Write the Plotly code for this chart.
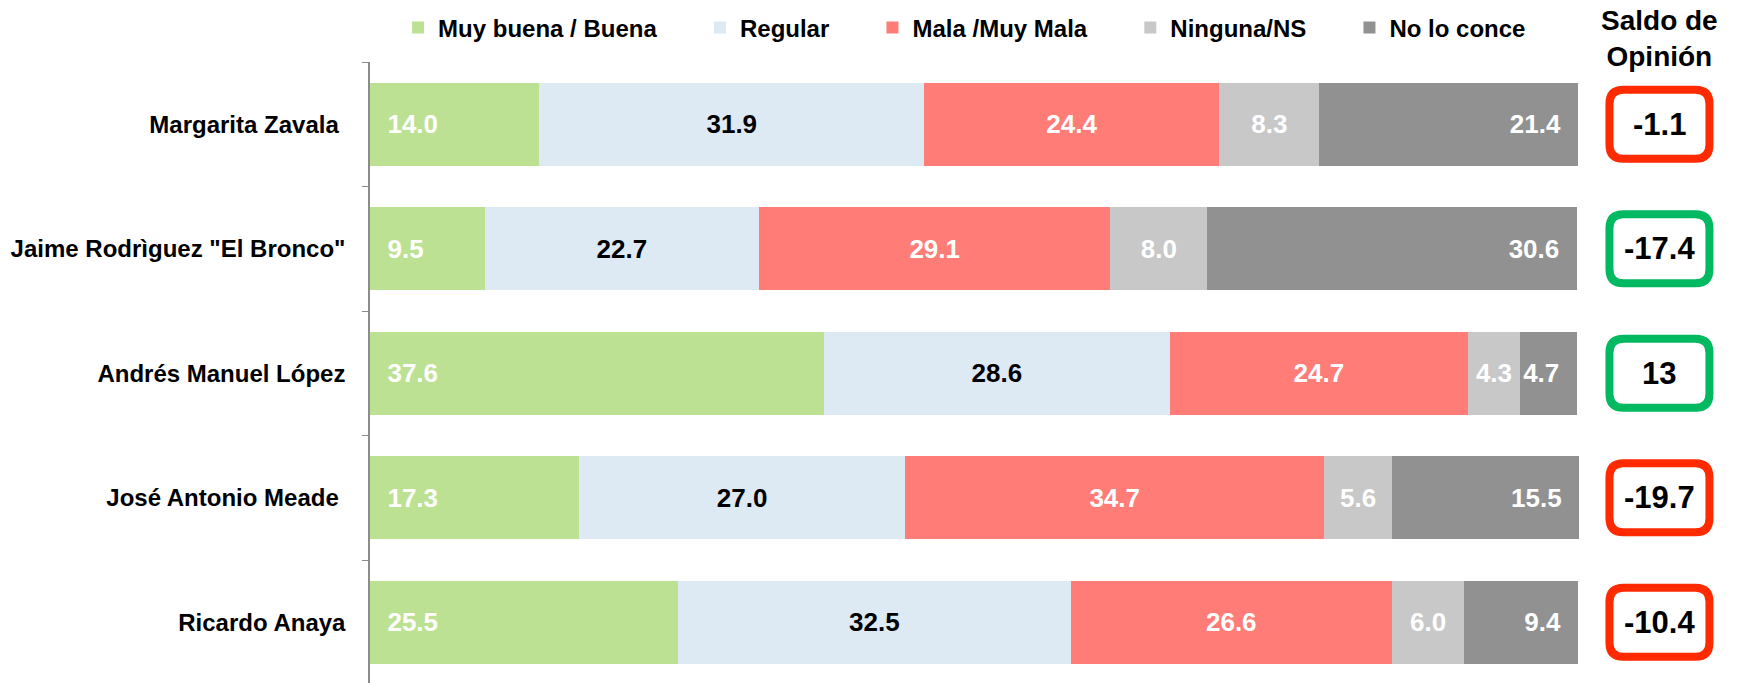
import plotly.graph_objects as go

NBSP = "\u00a0"

candidatos = ["Margarita Zavala" + NBSP, 'Jaime Rodrìguez "El Bronco"', "Andrés Manuel López",
              "José Antonio Meade" + NBSP, "Ricardo Anaya"]
series = ["Muy buena / Buena", "Regular", "Mala /Muy Mala", "Ninguna/NS", "No lo conce"]
muy_buena = [14.0, 9.5, 37.6, 17.3, 25.5]
regular = [31.9, 22.7, 28.6, 27.0, 32.5]
mala = [24.4, 29.1, 24.7, 34.7, 26.6]
ninguna = [8.3, 8.0, 4.3, 5.6, 6.0]
no_conoce = [21.4, 30.6, 4.7, 15.5, 9.4]
saldo = ["-1.1", "-17.4", "13", "-19.7", "-10.4"]
saldo_marca = ["rojo", "verde", "verde", "rojo", "rojo"]

FONT = "Liberation Sans, Arial, sans-serif"
colores = ["#BDE193", "#DDE9F3", "#FF7C77", "#C8C8C8", "#919191"]
color_texto = ["white", "black", "white", "white", "white"]
anclas = ["start", "middle", "middle", "middle", "end"]
marco = {"rojo": "#FF2A00", "verde": "#00B960"}
BOX_X = 106.75
RELLENO_LEYENDA = NBSP * 5 + "\u2009"


def etiquetas(vals, ancla):
    txt = [f"{v:.1f}" for v in vals]
    if ancla == "start":
        return [NBSP * 2 + t for t in txt]
    if ancla == "end":
        return [t + NBSP * 2 for t in txt]
    return txt


def caja(w=100, h=69, r=14):
    a, b = w / 2, h / 2
    return (f"M {-a + r},{-b} L {a - r},{-b} Q {a},{-b} {a},{-b + r} "
            f"L {a},{b - r} Q {a},{b} {a - r},{b} L {-a + r},{b} "
            f"Q {-a},{b} {-a},{b - r} L {-a},{-b + r} Q {-a},{-b} {-a + r},{-b} Z")


fig = go.Figure()
for nombre, vals, color, tcolor, ancla in zip(series, [muy_buena, regular, mala, ninguna, no_conoce],
                                              colores, color_texto, anclas):
    fig.add_trace(go.Bar(
        y=candidatos, x=vals, name=nombre + RELLENO_LEYENDA, orientation="h",
        marker=dict(color=color, line=dict(width=0)),
        text=etiquetas(vals, ancla), textposition="inside", insidetextanchor=ancla,
        textfont=dict(family=FONT, size=26, color=tcolor, weight="bold"),
        width=0.67, hoverinfo="x+y",
    ))

for i, (cand, s, m) in enumerate(zip(candidatos, saldo, saldo_marca)):
    fig.add_shape(type="path", xref="x", yref="y", xsizemode="pixel", ysizemode="pixel",
                  xanchor=BOX_X, yanchor=i, path=caja(),
                  line=dict(color=marco[m], width=8), fillcolor="white", layer="above")
    fig.add_annotation(x=BOX_X, y=cand, xref="x", yref="y", text=s, showarrow=False,
                       font=dict(family=FONT, size=31, color="black", weight="bold"))

fig.add_annotation(x=BOX_X, y=1.038, xref="x", yref="paper", yanchor="middle",
                   text="Saldo de<br>Opinión", showarrow=False,
                   font=dict(family=FONT, size=28, color="black", weight="bold"))

fig.update_layout(
    width=1741, height=683, barmode="stack",
    margin=dict(l=370, r=0, t=62, b=0, autoexpand=False),
    plot_bgcolor="white", paper_bgcolor="white",
    showlegend=True,
    legend=dict(orientation="h", x=0.0205, y=1.0548, xanchor="left", yanchor="middle",
                traceorder="normal", font=dict(family=FONT, size=24, color="black", weight="bold"),
                bgcolor="rgba(0,0,0,0)"),
)
fig.update_xaxes(visible=False, range=[0, 113.5], fixedrange=True)
fig.update_yaxes(type="category", categoryorder="array", categoryarray=candidatos,
                 range=[4.488, -0.5], showline=True, linecolor="#8C8C8C", linewidth=1.5,
                 ticks="outside", tickson="boundaries", ticklen=6, tickcolor="#8C8C8C",
                 ticklabelstandoff=18, showgrid=False, automargin=False,
                 tickfont=dict(family=FONT, size=24, color="black", weight="bold"))

# la página trae margen de 8px en el body; se quita para que el gráfico quede en (0, 0)
fig.write_html("out.html", config={"displayModeBar": False},
               post_script="document.body.style.margin = '0';")
